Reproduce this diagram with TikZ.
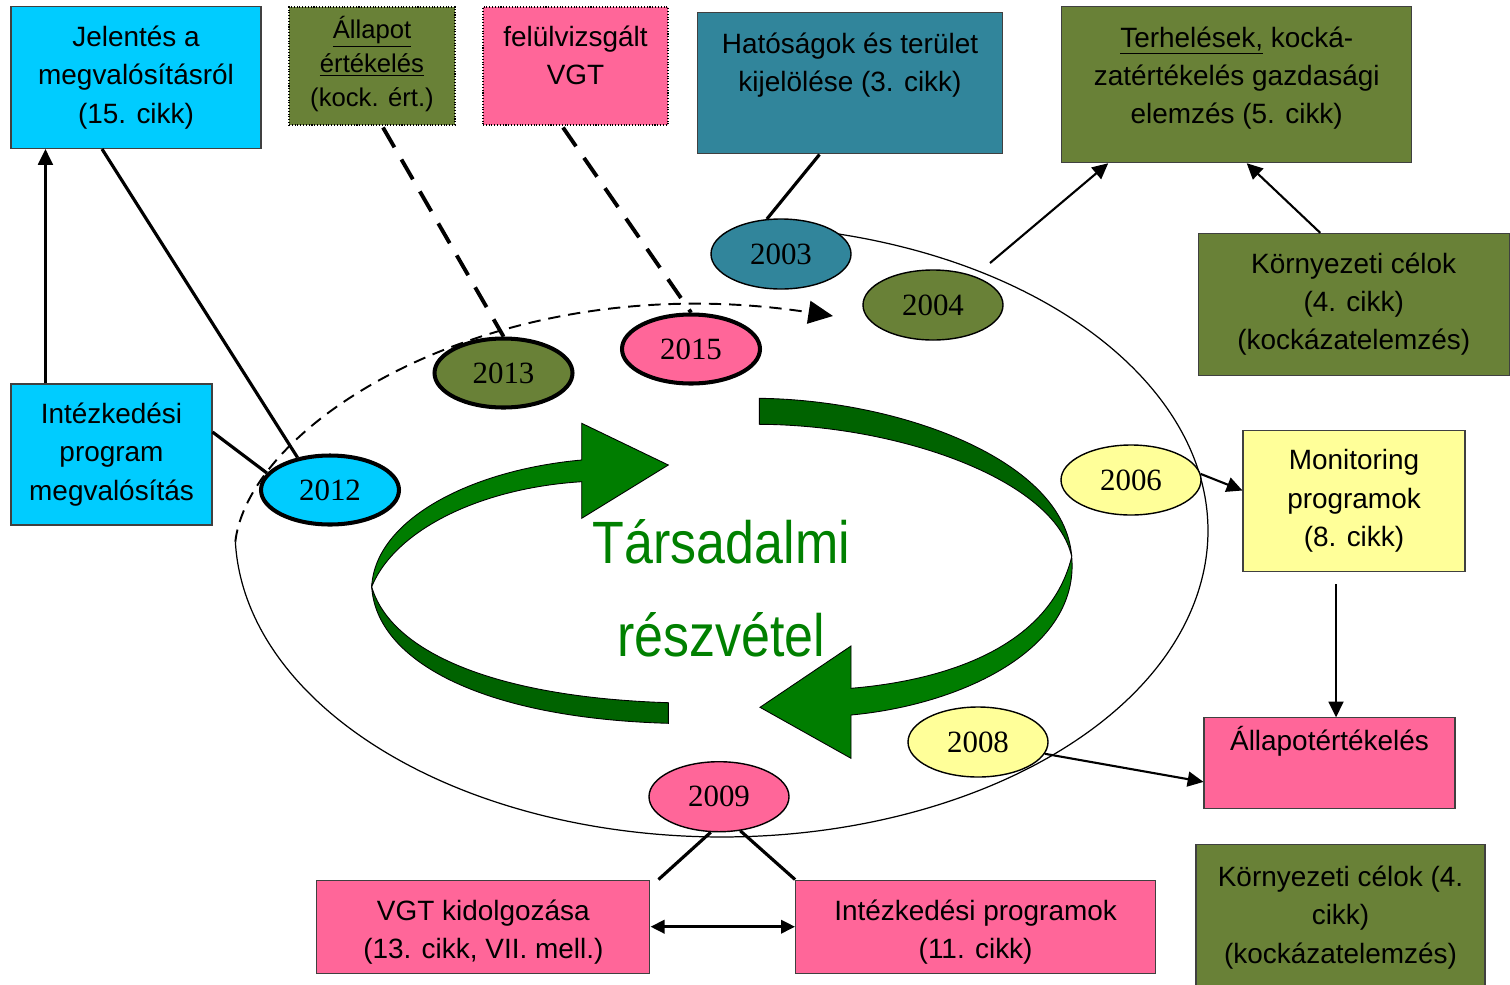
\documentclass[tikz,border=0pt]{standalone}
\usepackage{fontspec}
\setmainfont{Liberation Sans}
\newfontfamily\yearfont{Liberation Serif}
\newfontfamily\narrowfont{Liberation Sans}[FakeStretch=0.87]
\usetikzlibrary{positioning}
\usetikzlibrary{calc}
\usetikzlibrary{shapes.geometric}
\usetikzlibrary{arrows.meta}

\definecolor{cyanbox}{RGB}{0,204,255}
\definecolor{olivebox}{RGB}{105,129,55}
\definecolor{pinkbox}{RGB}{255,102,153}
\definecolor{tealbox}{RGB}{49,133,155}
\definecolor{yellowbox}{RGB}{255,255,153}
\definecolor{arrowgreen}{RGB}{0,125,0}
\definecolor{arrowdark}{RGB}{0,99,0}
\definecolor{textgreen}{RGB}{0,128,0}

\newcommand{\boxfont}{\fontsize{15.9}{21.8}\selectfont}

\tikzset{
	box/.style={draw=black!75, line width=0.6pt, inner sep=0pt, align=center, font=\boxfont},
	dotbox/.style={box, draw=black, densely dotted},
	wh/.style 2 args={minimum width=#1*0.02cm, minimum height=#2*0.02cm},
	toptext/.style={anchor=north, yshift=-#1*0.02cm, inner sep=0pt, align=center, font=\boxfont},
	year/.style={ellipse, draw, line width=0.8pt, inner sep=0pt, minimum width=140*0.02cm, minimum height=70*0.02cm, font=\yearfont\fontsize{17.6}{20}\selectfont},
	heavy/.style={year, line width=2.3pt, minimum width=138*0.02cm, minimum height=69*0.02cm},
	greentext/.style={text=textgreen, inner sep=0pt, font=\narrowfont\fontsize{34}{40}\selectfont},
	ribbon/.style={draw=black, line width=0.5pt},
	link/.style={line width=1.8pt},
	dashlink/.style={line width=2.2pt, dash pattern=on 13pt off 8pt},
	arr/.style={line width=1.2pt, -{Triangle[length=9pt,width=8.5pt]}}
}

\begin{document}
\begin{tikzpicture}[x=0.02cm, y=-0.02cm]
				\clip (0,0) rectangle (1510,984);
				\draw[line width=0.7pt] (822.6,231.7) arc[start angle=78, end angle=-178, x radius=9.73cm, y radius=6.12cm];
				\coordinate (dstart) at (235.3,541.7);
				\coordinate (dend) at (833,316);
				\draw[line width=1.1pt, dash pattern=on 7pt off 4.5pt, -{Triangle[length=14pt,width=13pt]}] (dstart) .. controls (250,420) and (500,265) .. (dend);

				\draw[ribbon, fill=arrowdark] (371.7,586.7) .. controls (376,660) and (480,718) .. (668.3,723.3) -- (668.3,702.7) .. controls (490,697) and (390,650) .. (371.7,586.7) -- cycle;
				\draw[ribbon, fill=arrowgreen] (371.7,586.7) .. controls (375,520) and (470,470) .. (581.7,460) -- (581.7,423.3) -- (668.3,465) -- (581.7,518.3) -- (581.7,481.7) .. controls (480,488) and (395,530) .. (371.7,586.7) -- cycle;
				\draw[ribbon, fill=arrowdark] (759.3,398.3) .. controls (900,400) and (1065,460) .. (1071.7,556.7) .. controls (1055,480) and (900,425) .. (759.3,424.3) -- cycle;
				\draw[ribbon, fill=arrowgreen] (1071.7,556.7) .. controls (1080,650) and (960,705) .. (851,715) -- (851,758.3) -- (760,707.3) -- (851,646) -- (851,688.3) .. controls (950,680) and (1050,645) .. (1071.7,556.7) -- cycle;
				\node[greentext, anchor=base] (tars) at (721.5,563) {Társadalmi};
				\node[greentext, anchor=base] (reszv) at (721.3,656.7) {részvétel};

				\node[box, fill=cyanbox, wh={250}{142}] (jelentes) at (136,77.5) {Jelentés a\\megvalósításról\\(15. cikk)};
				\node[dotbox, fill=olivebox, wh={166}{118}, label={[toptext=9, font=\fontsize{14.6}{19.6}\selectfont]north:{\underline{Állapot}\\\underline{értékelés}\\(kock. ért.)}}] (allapot) at (372,66) {};
				\node[dotbox, fill=pinkbox, wh={185}{118}, label={[toptext=19]north:{felülvizsgált\\VGT}}] (felul) at (575.5,66) {};
				\node[box, fill=tealbox, wh={305.5}{141.3}, label={[toptext=20]north:{Hatóságok és terület\\kijelölése (3. cikk)}}] (hatosagok) at (850,83.3) {};
				\node[box, fill=olivebox, wh={350}{156}, label={[toptext=20]north:{\underline{Terhelések,} kocká-\\zatértékelés gazdasági\\elemzés (5. cikk)}}] (terheles) at (1236.7,84.7) {};
				\node[box, fill=olivebox, wh={311}{141.7}] (kornyezet1) at (1353.7,304.2) {Környezeti célok\\(4. cikk)\\(kockázatelemzés)};
				\node[box, fill=yellowbox, wh={222}{141}] (monitoring) at (1354,501) {Monitoring\\programok\\(8. cikk)};
				\node[box, fill=pinkbox, wh={251}{91}, label={[toptext=9]north:{Állapotértékelés}}] (allapotert) at (1329.5,763.4) {};
				\node[box, fill=olivebox, wh={289}{146}] (kornyezet2) at (1340.5,917.5) {Környezeti célok (4.\\cikk)\\(kockázatelemzés)};
				\node[box, fill=pinkbox, wh={333.3}{93.3}, label={[toptext=20]north:{VGT kidolgozása\\(13. cikk, VII. mell.)}}] (vgt) at (483.3,926.7) {};
				\node[box, fill=pinkbox, wh={360}{93.3}, label={[toptext=20]north:{Intézkedési programok\\(11. cikk)}}] (intprog) at (975.6,926.7) {};
				\node[box, fill=cyanbox, wh={201}{141}] (intmeg) at (111.5,454.5) {Intézkedési\\program\\megvalósítás};

				\node[year, fill=tealbox] (y2003) at (781,254) {2003};
				\node[year, fill=olivebox] (y2004) at (933,305) {2004};
				\node[year, fill=yellowbox] (y2006) at (1131,480) {2006};
				\node[year, fill=yellowbox] (y2008) at (978,742) {2008};
				\node[year, fill=pinkbox] (y2009) at (719,796.7) {2009};
				\node[heavy, fill=cyanbox] (y2012) at (330,490) {2012};
				\node[heavy, fill=olivebox] (y2013) at (503.5,373) {2013};
				\node[heavy, fill=pinkbox] (y2015) at (691,349) {2015};

				\draw[arr] ([xshift=0.7cm]intmeg.north west) -- ([xshift=0.7cm]jelentes.south west);
				\draw[link] ([xshift=-0.68cm]jelentes.south) -- (y2012.135);
				\draw[link] ([yshift=0.45cm]intmeg.east) -- (y2012.165);
				\draw[dashlink] ([xshift=0.22cm,yshift=-0.04cm]allapot.south) -- (y2013.north);
				\draw[dashlink] ([xshift=-0.25cm,yshift=-0.04cm]felul.south) -- (y2015.north);
				\draw[link] ([xshift=-0.61cm]hatosagok.south) -- (y2003.112);
				\coordinate (e2004) at (990,263);
				\draw[arr] (e2004) -- ([xshift=-2.57cm]terheles.south);
				\draw[arr] ([xshift=-0.67cm]kornyezet1.north) -- ([xshift=0.2cm]terheles.south);
				\draw[arr] (y2006.5) -- ([yshift=0.21cm]monitoring.west);
				\draw[arr] ([xshift=-0.36cm,yshift=-0.24cm]monitoring.south) -- ([xshift=-0.36cm]monitoring.south |- allapotert.north);
				\draw[arr] (y2008.-10) -- ([yshift=-0.37cm]allapotert.west);
				\draw[link] (y2009.-103) -- ([xshift=0.16cm]vgt.north east);
				\draw[link] (y2009.-58) -- (intprog.north west);
				\draw[link, {Triangle[length=8pt,width=7.5pt]}-{Triangle[length=8pt,width=7.5pt]}] (vgt.east) -- (intprog.west);
		    \end{tikzpicture}
\end{document}
